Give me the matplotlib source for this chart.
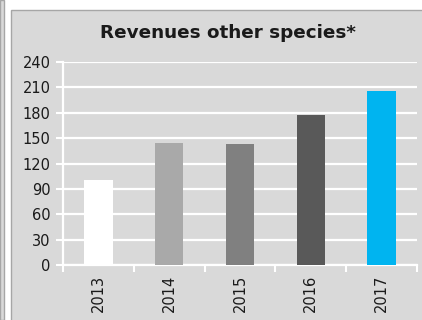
import matplotlib
matplotlib.use('Agg')
import matplotlib.pyplot as plt
from matplotlib.patches import Rectangle
import numpy as np

# Data
years = ['2013', '2014', '2015', '2016', '2017']
revenues = [100, 144, 143, 177, 206]
bar_colors = ['#ffffff', '#a9a9a9', '#808080', '#595959', '#00b4f0']
y_ticks = [0, 30, 60, 90, 120, 150, 180, 210, 240]

fig = plt.figure(figsize=(4.22, 3.2), dpi=100)
fig.patch.set_facecolor('white')

# panel backgrounds (neighbouring panel sliver on the left + main panel)
fig.patches.append(Rectangle((0, 0), 3.5 / 422, 1, transform=fig.transFigure,
                             facecolor='#d9d9d9', edgecolor='#a6a6a6', lw=1, zorder=-10))
fig.patches.append(Rectangle((11 / 422, -0.01), 1.0, 1 - 10 / 320 + 0.01, transform=fig.transFigure,
                             facecolor='#d9d9d9', edgecolor='#a6a6a6', lw=1, zorder=-10))

ax = fig.add_axes([63 / 422, 1 - 265 / 320, 354 / 422, 203 / 320])
ax.patch.set_visible(False)

x = np.arange(len(years))
ax.bar(x, revenues, width=0.4, color=bar_colors, zorder=3)

ax.set_xlim(-0.5, len(years) - 0.5)
ax.set_ylim(0, 240)
ax.set_yticks(y_ticks)
ax.set_yticklabels([str(t) for t in y_ticks], fontsize=10.5, color='#1a1a1a')
ax.yaxis.grid(True, color='white', lw=1.6, zorder=1)
ax.set_axisbelow(True)

ax.set_xticks(x)
ax.set_xticklabels(years, rotation=90, fontsize=10.5, color='#1a1a1a')
ax.set_xticks(np.arange(-0.5, len(years)), minor=True)
ax.tick_params(axis='x', which='major', length=0, pad=7)
ax.tick_params(axis='x', which='minor', length=5, color='white', width=1.5)
ax.tick_params(axis='y', length=5, color='white', width=1.5, pad=4)

for side in ['top', 'right']:
    ax.spines[side].set_visible(False)
for side in ['left', 'bottom']:
    ax.spines[side].set_color('white')
    ax.spines[side].set_linewidth(1.6)

fig.text(228 / 422, 1 - 33 / 320, 'Revenues other species*', ha='center', va='center',
         fontsize=13.2, fontweight='bold', color='#1a1a1a')

fig.savefig('out.png', dpi=100, facecolor=fig.get_facecolor())
